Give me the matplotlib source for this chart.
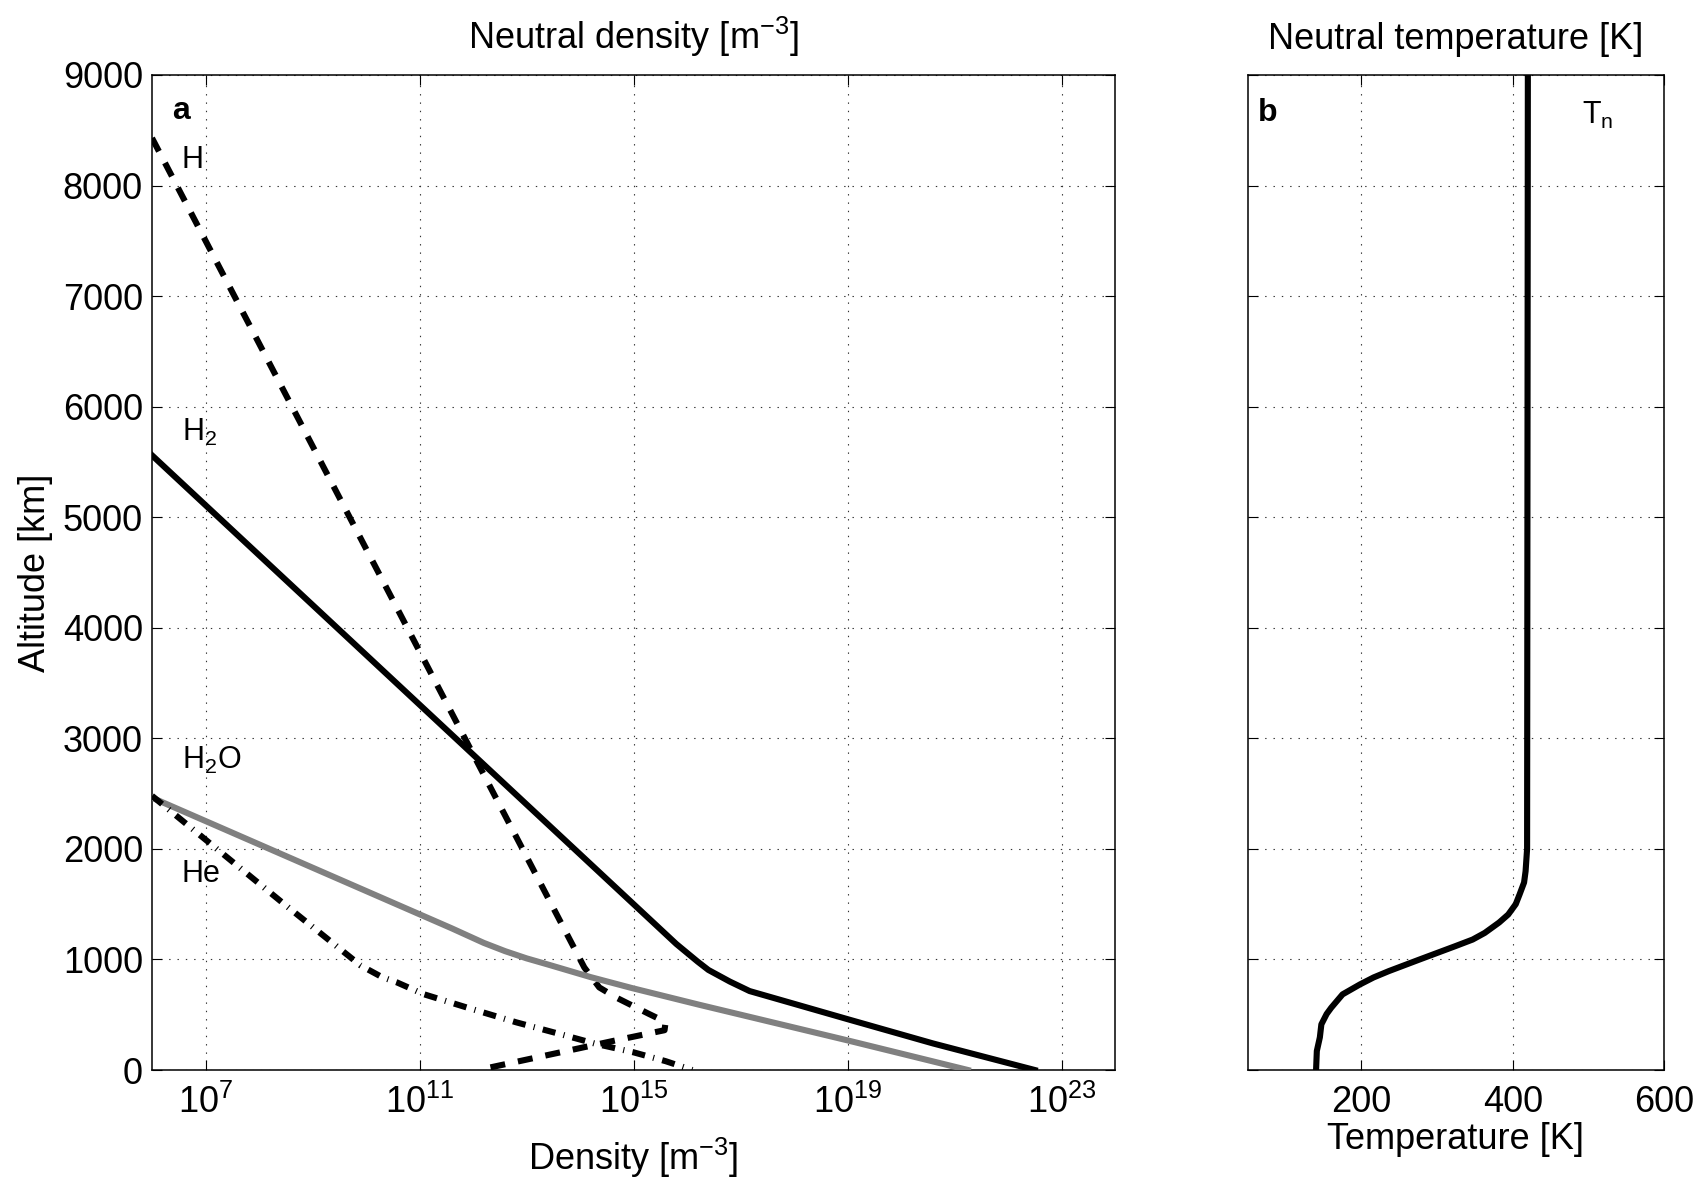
import numpy as np
import matplotlib
matplotlib.use('Agg')
import matplotlib.pyplot as plt

plt.rcParams['font.family'] = ['Liberation Sans', 'DejaVu Sans']
plt.rcParams['mathtext.fontset'] = 'custom'
plt.rcParams['mathtext.rm'] = 'Liberation Sans'
plt.rcParams['mathtext.it'] = 'Liberation Sans:italic'
plt.rcParams['mathtext.bf'] = 'Liberation Sans:bold'
plt.rcParams['lines.scale_dashes'] = False

# panel a: log10 density [m^-3] vs altitude [km]
h2_logn = [6.0, 15.8, 16.0, 16.2, 16.4, 16.8, 17.17, 18.1, 19.0, 20.6, 22.5]
h2_alt = [5560, 1140, 1060, 980, 905, 800, 714, 585, 460, 240, 0]

h_logn = [6.0, 14.08, 14.36, 14.67, 15.29, 15.6, 15.58, 14.64, 13.75, 12.1]
h_alt = [8430, 928, 747, 657, 507, 434, 360, 265, 172, 0]

h2o_logn = [6.0, 11.6, 12.2, 12.6, 13.0, 13.43, 14.2, 14.98, 16.23, 19.0, 21.25]
h2o_alt = [2463, 1282, 1150, 1075, 1010, 950, 840, 740, 590, 268, 0]

he_logn = [6.0, 8.46, 9.9, 10.3, 10.58, 11.07, 11.88, 12.81, 13.62, 14.3, 15.0, 15.6, 16.1]
he_alt = [2480, 1505, 945, 840, 792, 687, 566, 431, 326, 236, 160, 80, 0]

# panel b: neutral temperature [K] vs altitude [km]
tn_temp = [140, 141, 145, 147, 154, 160, 175, 198, 216, 236, 277, 324, 347, 363, 382,
           394, 404, 409, 415, 417, 419, 420]
tn_alt = [0, 172, 295, 413, 507, 563, 684, 774, 837, 894, 1000, 1120, 1180, 1240, 1334,
          1406, 1500, 1587, 1696, 1798, 2000, 9000]

alt_ticks = list(range(0, 9001, 1000))
dens_ticks = [1e7, 1e11, 1e15, 1e19, 1e23]
temp_ticks = [200, 400, 600]

fig = plt.figure(figsize=(17.06, 11.77), dpi=100)
W, H = 1706, 1177
ax1 = fig.add_axes([152 / W, (H - 1070) / H, 963 / W, 995 / H])
ax2 = fig.add_axes([1248 / W, (H - 1070) / H, 416 / W, 995 / H])

lw = 4.4
ax1.plot(10 ** np.array(h2_logn), h2_alt, color='k', lw=lw, zorder=3)
ax1.plot(10 ** np.array(h_logn), h_alt, color='k', lw=lw, dashes=(10.8, 9.4),
         dash_capstyle='butt', zorder=4)
ax1.plot(10 ** np.array(h2o_logn), h2o_alt, color='#808080', lw=lw, zorder=5)
ax1.plot(10 ** np.array(he_logn), he_alt, color='k', lw=lw, dashes=(9.4, 6, 0.8, 6),
         dash_capstyle='butt', zorder=6)

ax2.plot(tn_temp, tn_alt, color='k', lw=lw, zorder=3)

for ax in (ax1, ax2):
    ax.set_ylim(0, 9000)
    ax.set_yticks(alt_ticks)
    ax.grid(True, color='0.2', lw=0.8, linestyle=(0, (1, 5)))
    ax.tick_params(direction='in', length=7.5, width=0.8, top=True, right=True,
                   labelsize=26, pad=11)
    ax.tick_params(axis='y', pad=6.5)
    for sp in ax.spines.values():
        sp.set_linewidth(1.1)

ax1.set_xscale('log')
ax1.set_xlim(1e6, 1e24)
ax1.set_xticks(dens_ticks)
ax1.minorticks_off()
ax1.set_xlabel('Density [m$^{-3}$]', fontsize=26, labelpad=10)
ax1.set_ylabel('Altitude [km]', fontsize=26, labelpad=7)
ax1.set_title('Neutral density [m$^{-3}$]', fontsize=26, pad=19)

ax2.set_xlim(50, 600)
ax2.set_xticks(temp_ticks)
ax2.set_yticklabels([])
ax2.set_xlabel('Temperature [K]', fontsize=26, labelpad=1)
ax2.set_title('Neutral temperature [K]', fontsize=26, pad=19)

# curve labels
lx = 10 ** 6.554
ax1.text(lx, 8161, 'H', fontsize=22)
ax1.text(lx, 5686, 'H$_2$', fontsize=22)
ax1.text(lx, 2720, 'H$_2$O', fontsize=22)
ax1.text(lx, 1696, 'He', fontsize=22)
ax1.text(10 ** 6.37, 8606, 'a', fontsize=23, fontweight='bold')
ax2.text(63, 8585, 'b', fontsize=23, fontweight='bold')
ax2.text(492, 8561, 'T$_\\mathregular{n}$', fontsize=22)

fig.savefig('out.png', dpi=100)
